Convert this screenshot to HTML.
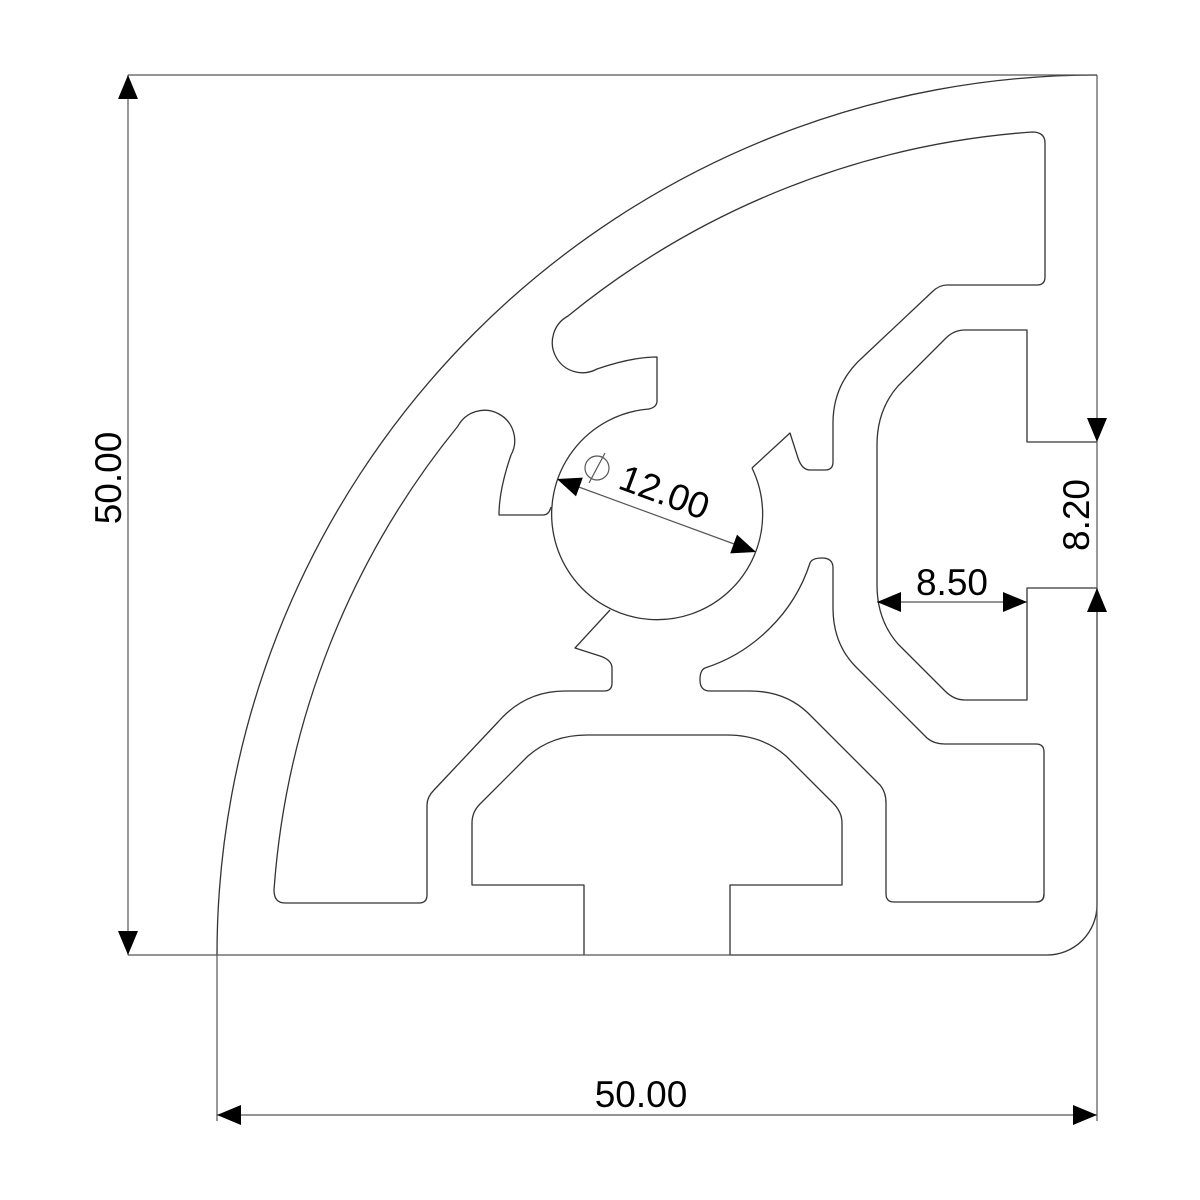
<!DOCTYPE html>
<html><head><meta charset="utf-8"><style>html,body{margin:0;padding:0;background:#fff}svg{display:block}</style></head>
<body>
<svg width="1200" height="1200" viewBox="0 0 1200 1200" xmlns="http://www.w3.org/2000/svg">
<rect width="1200" height="1200" fill="#fff"/>
<g fill="none" stroke="#333" stroke-width="1.3" stroke-linejoin="round">
  <!-- outer -->
  <path d="M217 955 A880 880 0 0 1 1097 75"/>
  <path d="M1097 588 V905 A50 50 0 0 1 1047 955 H730"/>
  <!-- hole -->
  <path d="M649 409 A105.5 105.5 0 1 0 752 468"/>
  <!-- bottom slot + reflection -->
  <g id="slot">
    <path d="M584 955 V885 H472 V823 Q472 812 480 804 L528 756 Q552 735 587 735 H727 Q762 735 786 756 L833 803 Q842 812 842 823 V885 H730 V955"/>
  </g>
  <g transform="matrix(0,1,1,0,142,-142)">
    <path d="M584 955 V885 H472 V823 Q472 812 480 804 L528 756 Q552 735 587 735 H727 Q762 735 786 756 L833 803 Q842 812 842 823 V885 H730 V955"/>
  </g>
  <!-- left pocket + reflection (top pocket) -->
  <path d="M551 507 Q549 515 543 515 H499 Q499 490 511 455 A30 30 0 0 0 458 426 A828 828 0 0 0 274 890 Q274 903 285 903 H419 Q427 903 427 895 V805 Q427 797 434 790 L498 722 Q525 691 565 691 H604 Q612 691 612 683 V668 Q612 660 600 656 L575 648 L610 610"/>
  <g transform="matrix(0,1,1,0,142,-142)">
    <path d="M551 507 Q549 515 543 515 H499 Q499 490 511 455 A30 30 0 0 0 458 426 A828 828 0 0 0 274 890 Q274 903 285 903 H419 Q427 903 427 895 V805 Q427 797 434 790 L498 722 Q525 691 565 691 H604 Q612 691 612 683 V668 Q612 660 600 656 L575 648 L610 610"/>
  </g>
  <!-- bottom-right pocket (self symmetric) -->
  <path d="M770 628 A161 161 0 0 1 705 668 Q700 670 700 680 Q700 691 710 691 H750 Q785 691 808 713 L880 785 Q886 792 886 803 V894 Q886 902 894 902 H1036 Q1044 902 1044 894"/>
  <g transform="matrix(0,1,1,0,142,-142)">
    <path d="M770 628 A161 161 0 0 1 705 668 Q700 670 700 680 Q700 691 710 691 H750 Q785 691 808 713 L880 785 Q886 792 886 803 V894 Q886 902 894 902 H1036 Q1044 902 1044 894"/>
  </g>
</g>
<!-- dimension / extension lines -->
<g fill="none" stroke="#555" stroke-width="1.2">
  <path d="M128 75 H1097"/>
  <path d="M128 955 H1047"/>
  <path d="M1097 75 V1121"/>
  <path d="M217 955 V1121"/>
  <path d="M128 75 V955"/>
  <path d="M217 1115 H1097"/>
  <path d="M1027 442 H1097"/>
  <path d="M1027 588 H1097"/>
  <path d="M877 602 H1027"/>
  <path d="M557 479 L756 552"/>
  <circle cx="597" cy="468" r="12"/>
  <path d="M589 483 L605 453"/>
</g>
<g fill="#000" stroke="none">
  <polygon points="128,75 118,99 138,99"/>
  <polygon points="128,955 118,931 138,931"/>
  <polygon points="217,1115 241,1105 241,1125"/>
  <polygon points="1097,1115 1073,1105 1073,1125"/>
  <polygon points="1097,442 1087,418 1107,418"/>
  <polygon points="1097,588 1087,612 1107,612"/>
  <polygon points="877,602 901,592 901,612"/>
  <polygon points="1027,602 1003,592 1003,612"/>
  <polygon points="557,479 576.0,496.4 582.8,477.6"/>
  <polygon points="756,552 730.2,553.4 737.0,534.6"/>
</g>
<g font-family="'Liberation Sans', sans-serif" font-size="37" fill="#000" text-anchor="middle">
  <text x="641" y="1107">50.00</text>
  <text transform="translate(121,478) rotate(-90)">50.00</text>
  <text x="952" y="595">8.50</text>
  <text transform="translate(1089,515) rotate(-90)">8.20</text>
  <text transform="translate(660,504) rotate(20.4)">12.00</text>
</g>
</svg>
</body></html>
